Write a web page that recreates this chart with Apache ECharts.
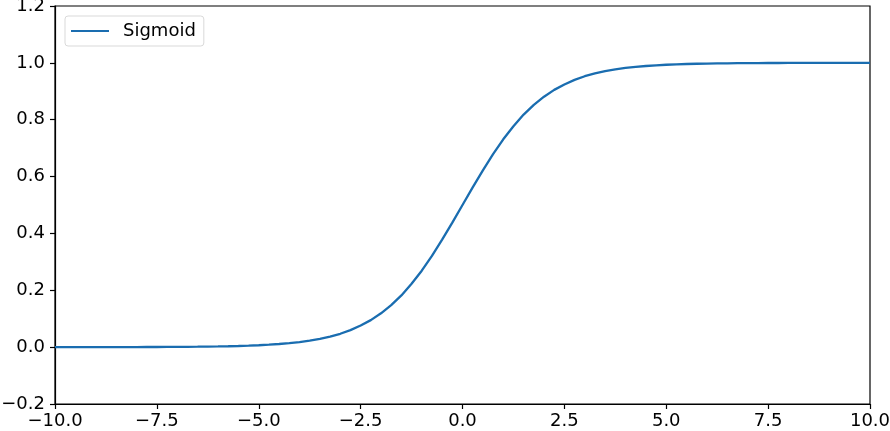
<!DOCTYPE html>
<html><head><meta charset="utf-8">
<script src="https://cdn.jsdelivr.net/npm/echarts@6/dist/echarts.min.js"></script>
<style>html,body{margin:0;padding:0;background:#fff}#c{width:890px;height:431px}</style>
</head><body><div id="c"></div>
<script>
const seriesName = 'Sigmoid';
const xValues = [-10,-9.75,-9.5,-9.25,-9,-8.75,-8.5,-8.25,-8,-7.75,-7.5,-7.25,-7,-6.75,-6.5,-6.25,-6,-5.75,-5.5,-5.25,-5,-4.75,-4.5,-4.25,-4,-3.75,-3.5,-3.25,-3,-2.75,-2.5,-2.25,-2,-1.75,-1.5,-1.25,-1,-0.75,-0.5,-0.25,0,0.25,0.5,0.75,1,1.25,1.5,1.75,2,2.25,2.5,2.75,3,3.25,3.5,3.75,4,4.25,4.5,4.75,5,5.25,5.5,5.75,6,6.25,6.5,6.75,7,7.25,7.5,7.75,8,8.25,8.5,8.75,9,9.25,9.5,9.75,10];
const yValues = [0.00005,0.00006,0.00007,0.0001,0.00012,0.00016,0.0002,0.00026,0.00034,0.00043,0.00055,0.00071,0.0009,0.0012,0.0015,0.0019,0.0025,0.0032,0.0041,0.0052,0.0067,0.0086,0.011,0.014,0.018,0.023,0.029,0.037,0.047,0.060,0.076,0.095,0.119,0.148,0.182,0.223,0.269,0.321,0.378,0.438,0.5,0.562,0.622,0.679,0.731,0.777,0.818,0.852,0.881,0.905,0.924,0.940,0.953,0.963,0.971,0.977,0.982,0.986,0.989,0.9914,0.9933,0.9948,0.9959,0.9968,0.9975,0.9981,0.9985,0.9988,0.9991,0.9993,0.99945,0.99957,0.99966,0.99974,0.9998,0.99984,0.99988,0.9999,0.99993,0.99994,0.99995];
const xTicks = ['−10.0','−7.5','−5.0','−2.5','0.0','2.5','5.0','7.5','10.0'];
const font = 'DejaVu Sans';
const chart = echarts.init(document.getElementById('c'));
chart.setOption({
  animation: false,
  grid: {left: 55, right: 20, top: 6, bottom: 27, outerBoundsMode: 'none', containLabel: false,
    show: true, borderColor: '#000', borderWidth: 1.2, backgroundColor: 'transparent'},
  legend: {
    left: 65, top: 16, padding: [6, 8, 6, 6],
    borderColor: '#d9d9d9', borderWidth: 1, borderRadius: 3,
    itemWidth: 38, itemHeight: 18,
    icon: 'path://M0,8 L38,8 L38,10 L0,10 Z',
    textStyle: {fontFamily: font, fontSize: 18, color: '#000', padding: [0,0,0,9]},
    data: [seriesName]
  },
  xAxis: {
    type: 'value', min: -10, max: 10, interval: 2.5,
    axisLine: {show: true, onZero: false, lineStyle: {color: '#000', width: 1.2}},
    axisTick: {show: true, inside: false, length: 5, lineStyle: {color: '#000', width: 1.2}},
    splitLine: {show: false},
    axisLabel: {fontFamily: font, fontSize: 18, color: '#000', margin: 8, hideOverlap: false,
      formatter: v => xTicks[Math.round((v + 10) / 2.5)]}
  },
  yAxis: {
    type: 'value', min: -0.2, max: 1.2, interval: 0.2,
    axisLine: {show: true, onZero: false, lineStyle: {color: '#000', width: 1.2}},
    axisTick: {show: true, inside: false, length: 5, lineStyle: {color: '#000', width: 1.2}},
    splitLine: {show: false},
    axisLabel: {fontFamily: font, fontSize: 18, color: '#000', margin: 10, hideOverlap: false,
      formatter: v => (v < 0 ? '−' : '') + Math.abs(v).toFixed(1)}
  },
  series: [{
    name: seriesName, type: 'line', showSymbol: false, symbol: 'none',
    smooth: false,
    lineStyle: {color: '#1a6db0', width: 2.3},
    itemStyle: {color: '#1a6db0'},
    data: xValues.map((x, i) => [x, yValues[i]])
  }]
});
</script></body></html>
